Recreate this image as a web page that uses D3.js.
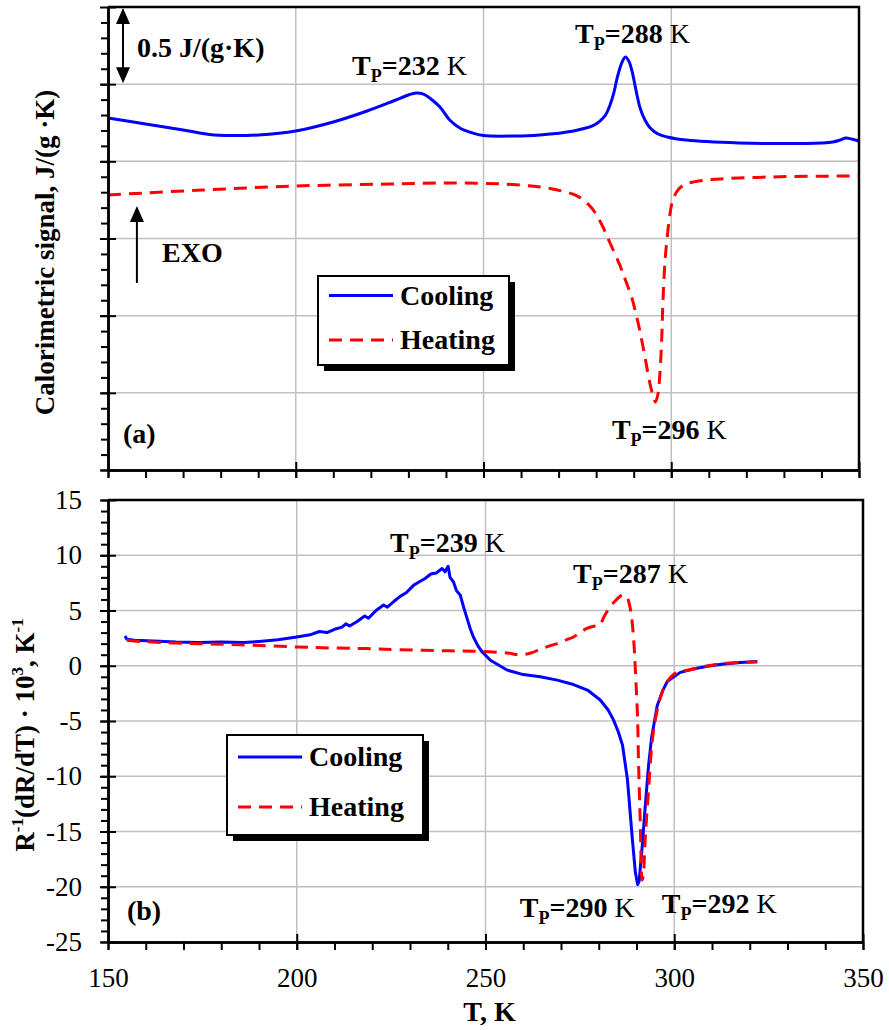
<!DOCTYPE html>
<html lang="en">
<head>
  <meta charset="UTF-8">
  <script src="https://d3js.org/d3.v7.min.js"></script>
  <title>Calorimetric signal and resistance derivative</title>
  <style>
    body { margin: 0; background: #fff; }
    text { font-family: "Liberation Serif", "Times New Roman", serif; }
  </style>
</head>
<body>
  <svg width="889" height="1030"></svg>

  <script>
    const COOL_COLOR = '#0000ff'
    const HEAT_COLOR = '#ff0000'
    const GRID_COLOR = '#c0c0c0'
    const DASH = '13,8'

    // panel (a): calorimetric signal, arbitrary offset, 0.5 J/(g K) per major division
    const calCoolT = [150, 160, 170, 177, 183, 190, 200, 210, 219, 226, 230, 232, 234, 236, 238.4, 241, 243.7, 247, 250, 258, 265, 274, 279, 281, 282.5, 283.7, 284.7, 285.6, 286.8, 287.8, 288.8, 289.6, 290.6, 291.7, 293, 294.4, 296.5, 298.9, 304, 318, 330, 340, 343, 345, 346.5, 348, 350]
    const calCoolV = [2.281, 2.242, 2.203, 2.174, 2.167, 2.171, 2.197, 2.255, 2.326, 2.391, 2.430, 2.443, 2.436, 2.404, 2.352, 2.268, 2.216, 2.184, 2.167, 2.164, 2.171, 2.197, 2.229, 2.261, 2.300, 2.365, 2.443, 2.540, 2.637, 2.676, 2.644, 2.579, 2.462, 2.346, 2.268, 2.216, 2.177, 2.158, 2.138, 2.119, 2.115, 2.119, 2.125, 2.138, 2.151, 2.145, 2.132]

    const calHeatT = [150, 175, 200, 225, 241, 255, 265, 272, 275, 277.6, 279.8, 281.8, 283.7, 286.3, 288, 289.5, 291, 292.5, 294.3, 295.3, 295.8, 296.4, 297, 297.5, 297.8, 298.3, 298.9, 299.7, 300.5, 302, 304, 309.5, 327, 350]
    const calHeatV = [1.782, 1.814, 1.840, 1.853, 1.860, 1.853, 1.834, 1.801, 1.775, 1.730, 1.665, 1.575, 1.471, 1.328, 1.218, 1.115, 0.972, 0.797, 0.564, 0.467, 0.441, 0.486, 0.629, 0.875, 1.102, 1.341, 1.503, 1.665, 1.756, 1.821, 1.853, 1.879, 1.899, 1.905]

    // panel (b): R^-1 dR/dT x 10^3
    const resCoolT = [154.5, 155, 157, 162, 168, 174, 180, 186, 190, 195, 200, 203.5, 206, 208, 210, 212, 213, 214, 216, 218, 219, 221, 223, 224, 226, 227.5, 229, 231, 232.5, 234, 235.5, 237, 238.5, 239.3, 240.1, 240.6, 241.5, 242.3, 243.3, 244.3, 245.2, 246, 246.8, 248, 249, 251.3, 255.8, 260, 264.5, 269, 273.3, 277, 280.4, 282.5, 283.9, 285.2, 286.3, 287.6, 288.9, 289.7, 290.3, 290.7, 291.5, 292.3, 293.2, 294, 295.5, 297, 298.2, 301.6, 305, 308.8, 313, 317.5, 322]
    const resCoolV = [2.7, 2.4, 2.3, 2.25, 2.15, 2.1, 2.15, 2.1, 2.2, 2.35, 2.6, 2.8, 3.1, 3.0, 3.3, 3.5, 3.8, 3.6, 4.0, 4.5, 4.3, 5.0, 5.5, 5.3, 5.9, 6.3, 6.6, 7.3, 7.6, 7.9, 8.3, 8.4, 8.8, 8.5, 9.0, 8.0, 7.6, 6.8, 6.4, 5.2, 4.2, 3.3, 2.6, 1.8, 1.3, 0.5, -0.4, -0.8, -1.0, -1.3, -1.7, -2.2, -3.1, -4.0, -4.9, -6.0, -7.2, -10.3, -15.7, -18.7, -19.8, -19.5, -16.4, -12.8, -9.0, -6.5, -3.6, -2.2, -1.4, -0.6, -0.3, -0.05, 0.15, 0.3, 0.38]

    const resHeatT = [155, 158.5, 165, 174, 185, 200, 210, 218.6, 227.4, 240.6, 248, 255.8, 259, 262, 264.5, 267, 269, 271, 273.3, 275, 277, 279, 280.4, 281.2, 283.1, 284.5, 285.7, 286.8, 287.5, 288.4, 289.2, 289.7, 290.3, 290.5, 291, 291.5, 291.8, 292.3, 293.2, 294.2, 295.2, 296.4, 298, 299.8, 302, 305.1, 309, 313, 318, 322]
    const resHeatV = [2.3, 2.2, 2.1, 2.0, 1.9, 1.7, 1.6, 1.55, 1.45, 1.35, 1.3, 1.15, 1.0, 1.15, 1.5, 1.8, 2.0, 2.3, 2.6, 3.0, 3.4, 3.6, 3.7, 4.3, 5.4, 5.9, 6.3, 6.4, 6.2, 5.1, 2.6, -0.4, -4.9, -8.2, -14.2, -19.4, -19.0, -15.7, -11.2, -6.7, -4.5, -2.8, -1.5, -0.8, -0.5, -0.3, 0.0, 0.2, 0.3, 0.35]

    const xTicks = [150, 200, 250, 300, 350]
    const calTicks = [0, 0.5, 1, 1.5, 2, 2.5, 3]
    const resTicks = [-25, -20, -15, -10, -5, 0, 5, 10, 15]

    // peak labels: [T, value, number]
    const calPeaks = [[215, 2.56, '232'], [274.4, 2.767, '288'], [284.2, 0.2, '296']]
    const resPeaks = [[224.7, 10.3, '239'], [273.2, 7.49, '287'], [259.1, -22.7, '290'], [296.7, -22.35, '292']]

    const svg = d3.select('svg')
    const zip = (xs, ys) => xs.map((x, i) => [x, ys[i]])

    const xTop = d3.scaleLinear().domain([150, 350]).range([108, 859])
    const yTop = d3.scaleLinear().domain([0, 3]).range([470, 7])
    const xBot = d3.scaleLinear().domain([150, 350]).range([108, 863])
    const yBot = d3.scaleLinear().domain([-25, 15]).range([942, 500])

    function drawGrid(x, y, yGrid) {
      const g = svg.append('g')
      g.selectAll('.h').data(yGrid).enter().append('line')
        .attr('x1', x.range()[0]).attr('x2', x.range()[1])
        .attr('y1', d => y(d)).attr('y2', d => y(d))
        .attr('stroke', GRID_COLOR).attr('stroke-width', 1.5)
      g.selectAll('.v').data([200, 250, 300]).enter().append('line')
        .attr('x1', d => x(d)).attr('x2', d => x(d))
        .attr('y1', y.range()[0]).attr('y2', y.range()[1])
        .attr('stroke', GRID_COLOR).attr('stroke-width', 1.5)
    }

    function drawCurve(x, y, pts, color, dashed, curve) {
      const line = d3.line().x(d => x(d[0])).y(d => y(d[1])).curve(curve)
      svg.append('path').datum(pts)
        .attr('d', line)
        .attr('fill', 'none')
        .attr('stroke', color)
        .attr('stroke-width', 3)
        .attr('stroke-linejoin', 'round')
        .attr('stroke-dasharray', dashed ? DASH : null)
    }

    function drawAxes(x, y, majorY, minorY, labels) {
      const x0 = x.range()[0], x1 = x.range()[1]
      const yb = y.range()[0], yt = y.range()[1]

      // minor ticks
      svg.append('g').attr('transform', `translate(${x0},0)`)
        .call(d3.axisLeft(y).tickValues(minorY).tickSize(7).tickSizeOuter(0).tickFormat(''))
      svg.append('g').attr('transform', `translate(0,${yb})`)
        .call(d3.axisBottom(x).tickValues(d3.range(150, 351, 10)).tickSize(8).tickSizeOuter(0).tickFormat(''))

      // major ticks, crossing the axis line
      const ga = svg.append('g').attr('transform', `translate(${x0},0)`)
        .call(d3.axisLeft(y).tickValues(majorY).tickSize(8).tickPadding(18).tickSizeOuter(0)
          .tickFormat(labels ? d => String(d) : ''))
      ga.selectAll('.tick line').attr('x1', 8)
      const gb = svg.append('g').attr('transform', `translate(0,${yb})`)
        .call(d3.axisBottom(x).tickValues(xTicks).tickSize(8).tickPadding(18).tickSizeOuter(0)
          .tickFormat(labels ? d => String(d) : ''))
      gb.selectAll('.tick line').attr('y1', -8)

      svg.selectAll('.tick line').attr('stroke', '#000').attr('stroke-width', 2)
      svg.selectAll('.domain').attr('stroke', '#000').attr('stroke-width', 2.5)
      svg.selectAll('.tick text')
        .attr('font-family', '"Liberation Serif", serif').attr('font-size', 27).attr('fill', '#000')

      // top and right frame
      svg.append('path')
        .attr('d', `M${x0},${yt}H${x1}V${yb}`)
        .attr('fill', 'none').attr('stroke', '#000').attr('stroke-width', 2.5)
    }

    function peakLabel(x, y, p) {
      const t = svg.append('text').attr('x', x(p[0])).attr('y', y(p[1]))
        .attr('font-size', 28).attr('font-weight', 'bold')
      t.append('tspan').text('T')
      t.append('tspan').text('P').attr('font-size', 18).attr('dy', 7)
      t.append('tspan').text('=' + p[2]).attr('dy', -7)
      t.append('tspan').text(' K').attr('font-weight', 'normal')
    }

    function legend(x0, y0, w, h) {
      svg.append('rect').attr('x', x0 + 6).attr('y', y0 + 6).attr('width', w).attr('height', h).attr('fill', '#000')
      svg.append('rect').attr('x', x0).attr('y', y0).attr('width', w).attr('height', h)
        .attr('fill', '#fff').attr('stroke', '#000').attr('stroke-width', 2)
      const items = [['Cooling', COOL_COLOR, false, 0.22], ['Heating', HEAT_COLOR, true, 0.72]]
      items.forEach(([name, color, dashed, f]) => {
        const cy = y0 + h * f
        svg.append('line').attr('x1', x0 + 11).attr('x2', x0 + 75).attr('y1', cy).attr('y2', cy)
          .attr('stroke', color).attr('stroke-width', 3).attr('stroke-dasharray', dashed ? DASH : null)
        svg.append('text').attr('x', x0 + 82).attr('y', cy + 9)
          .attr('font-size', 28).attr('font-weight', 'bold').text(name)
      })
    }

    function arrowHead(x, y, dir) {
      svg.append('path')
        .attr('d', `M${x},${y}L${x - 7},${y + dir * 16}L${x + 7},${y + dir * 16}Z`)
        .attr('fill', '#000')
    }

    // ---- panel (a)
    drawGrid(xTop, yTop, [0.5, 1, 1.5, 2, 2.5])
    drawCurve(xTop, yTop, zip(calHeatT, calHeatV), HEAT_COLOR, true, d3.curveCatmullRom)
    drawCurve(xTop, yTop, zip(calCoolT, calCoolV), COOL_COLOR, false, d3.curveCatmullRom)
    drawAxes(xTop, yTop, calTicks, d3.range(0, 30).map(i => i / 10), false)

    // scale bar: one major division = 0.5 J/(g K)
    const sbx = xTop(154)
    svg.append('line').attr('x1', sbx).attr('x2', sbx).attr('y1', yTop(3) + 6).attr('y2', yTop(2.5) - 6)
      .attr('stroke', '#000').attr('stroke-width', 2)
    arrowHead(sbx, yTop(3) + 1, 1)
    arrowHead(sbx, yTop(2.5) - 1, -1)
    svg.append('text').attr('x', xTop(157.7)).attr('y', yTop(2.676))
      .attr('font-size', 28).attr('font-weight', 'bold').text('0.5 J/(g·K)')

    const exx = xTop(157.7)
    svg.append('line').attr('x1', exx).attr('x2', exx).attr('y1', yTop(1.68)).attr('y2', yTop(1.212))
      .attr('stroke', '#000').attr('stroke-width', 2)
    arrowHead(exx, yTop(1.71), 1)
    svg.append('text').attr('x', xTop(164.4)).attr('y', yTop(1.348))
      .attr('font-size', 28).attr('font-weight', 'bold').text('EXO')

    svg.append('text').attr('x', xTop(154)).attr('y', yTop(0.175))
      .attr('font-size', 28).attr('font-weight', 'bold').text('(a)')
    calPeaks.forEach(p => peakLabel(xTop, yTop, p))
    legend(318, 276, 191, 89)

    svg.append('text')
      .attr('transform', `translate(54,${(yTop(0) + yTop(3)) / 2 + 14}) rotate(-90)`)
      .attr('text-anchor', 'middle').attr('font-size', 27).attr('font-weight', 'bold')
      .text('Calorimetric signal, J/(g ·K)')

    // ---- panel (b)
    drawGrid(xBot, yBot, [-20, -15, -10, -5, 0, 5, 10])
    drawCurve(xBot, yBot, zip(resCoolT, resCoolV), COOL_COLOR, false, d3.curveLinear)
    drawCurve(xBot, yBot, zip(resHeatT, resHeatV), HEAT_COLOR, true, d3.curveCatmullRom)
    drawAxes(xBot, yBot, resTicks, d3.range(-25, 16), true)

    svg.append('text').attr('x', xBot(155)).attr('y', yBot(-23))
      .attr('font-size', 28).attr('font-weight', 'bold').text('(b)')
    resPeaks.forEach(p => peakLabel(xBot, yBot, p))
    legend(227, 735, 196, 100)

    const yt = svg.append('text')
      .attr('transform', `translate(34,${(yBot(-25) + yBot(15)) / 2 + 14}) rotate(-90)`)
      .attr('text-anchor', 'middle').attr('font-size', 27).attr('font-weight', 'bold')
    yt.append('tspan').text('R')
    yt.append('tspan').text('-1').attr('font-size', 17).attr('dy', -11)
    yt.append('tspan').text('(dR/dT) · 10').attr('dy', 11)
    yt.append('tspan').text('3').attr('font-size', 17).attr('dy', -11)
    yt.append('tspan').text(', K').attr('dy', 11)
    yt.append('tspan').text('-1').attr('font-size', 17).attr('dy', -11)

    svg.append('text').attr('x', (xBot(150) + xBot(350)) / 2 + 4).attr('y', 1021)
      .attr('text-anchor', 'middle').attr('font-size', 28).attr('font-weight', 'bold').text('T, K')
  </script>
</body>
</html>
